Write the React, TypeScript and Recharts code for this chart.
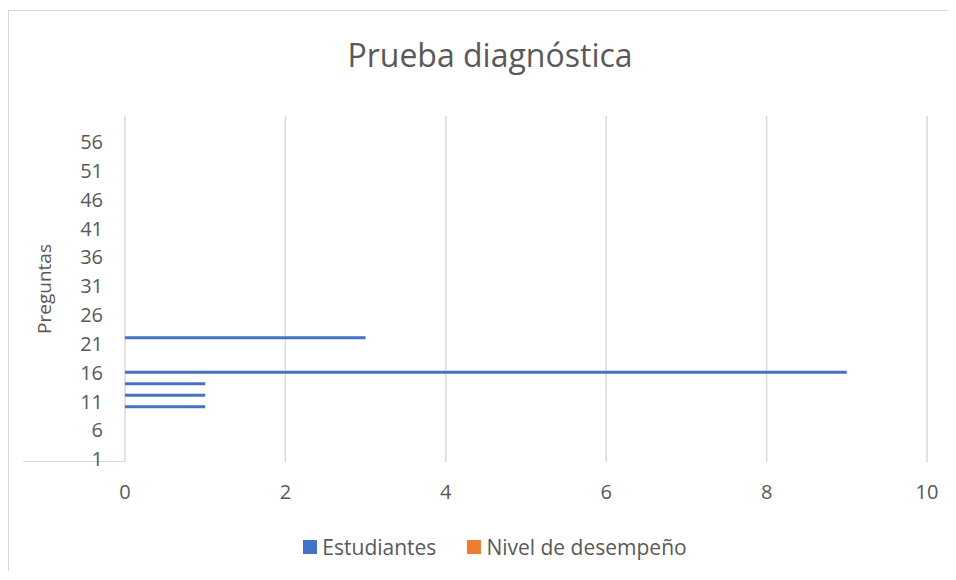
import React from 'react';
import { BarChart, Bar, XAxis, YAxis, CartesianGrid } from 'recharts';

// question numbers (category axis)
const preguntas = [
  1, 2, 3, 4, 5, 6, 7, 8, 9, 10,
  11, 12, 13, 14, 15, 16, 17, 18, 19, 20,
  21, 22, 23, 24, 25, 26, 27, 28, 29, 30,
  31, 32, 33, 34, 35, 36, 37, 38, 39, 40,
  41, 42, 43, 44, 45, 46, 47, 48, 49, 50,
  51, 52, 53, 54, 55, 56, 57, 58, 59, 60,
];

const estudiantes = [
  0, 0, 0, 0, 0, 0, 0, 0, 0, 1,
  0, 1, 0, 1, 0, 9, 0, 0, 0, 0,
  0, 3, 0, 0, 0, 0, 0, 0, 0, 0,
  0, 0, 0, 0, 0, 0, 0, 0, 0, 0,
  0, 0, 0, 0, 0, 0, 0, 0, 0, 0,
  0, 0, 0, 0, 0, 0, 0, 0, 0, 0,
];

const nivel = [
  0, 0, 0, 0, 0, 0, 0, 0, 0, 0,
  0, 0, 0, 0, 0, 0, 0, 0, 0, 0,
  0, 0, 0, 0, 0, 0, 0, 0, 0, 0,
  0, 0, 0, 0, 0, 0, 0, 0, 0, 0,
  0, 0, 0, 0, 0, 0, 0, 0, 0, 0,
  0, 0, 0, 0, 0, 0, 0, 0, 0, 0,
];

const valueTicks = [0, 2, 4, 6, 8, 10];

const series = [
  { key: 'estudiantes', name: 'Estudiantes', color: '#4472c4' },
  { key: 'nivel', name: 'Nivel de desempeño', color: '#ed7d31' },
];

const FONT = '"Open Sans", sans-serif';
const TEXT = '#595959';

const data = preguntas.map((p, i) => ({ q: p, estudiantes: estudiantes[i], nivel: nivel[i] }));

const App: React.FC = () => {
  return (
    <div
      style={{
        position: 'relative',
        marginTop: 2,
        width: 946,
        height: 560,
        borderLeft: '1.5px solid #d9d9d9',
        borderTop: '1.5px solid #d9d9d9',
        fontFamily: FONT,
        background: '#fff',
        overflow: 'hidden',
      }}
    >
      <div
        style={{
          position: 'absolute', left: 0, width: 962, top: 24,
          textAlign: 'center', fontSize: 32, color: TEXT, lineHeight: '40px',
        }}
      >
        Prueba diagnóstica
      </div>

      <div
        style={{
          position: 'absolute', left: 35, top: 278, width: 0, height: 0,
        }}
      >
        <div
          style={{
            position: 'absolute', transform: 'translate(-50%, -50%) rotate(-90deg)',
            fontSize: 19, color: TEXT, whiteSpace: 'nowrap',
          }}
        >
          Preguntas
        </div>
      </div>

      {/* odd little baseline under the category labels */}
      <div style={{ position: 'absolute', left: 14, top: 450, width: 102, borderTop: '1.5px solid #d9d9d9' }} />

      <BarChart
        width={946}
        height={560}
        data={data}
        layout="vertical"
        margin={{ top: 105, right: 28, left: 36, bottom: 69 }}
        barCategoryGap={0}
      >
        <CartesianGrid horizontal={false} stroke="#d9d9d9" strokeWidth={1.5} />
        <XAxis
          type="number"
          domain={[0, 10]}
          ticks={valueTicks}
          height={40}
          axisLine={false}
          tickLine={false}
          tickSize={0}
          tickMargin={23}
          tick={{ fontSize: 20, fill: TEXT, fontFamily: FONT }}
        />
        <YAxis
          type="category"
          dataKey="q"
          reversed
          width={80}
          interval={4}
          axisLine={false}
          tickLine={false}
          tickSize={0}
          tickMargin={22}
          tick={{ fontSize: 20, fill: TEXT, fontFamily: FONT }}
        />
        {series.map((s) => (
          <Bar key={s.key} dataKey={s.key} name={s.name} fill={s.color} stackId="a" barSize={3} isAnimationActive={false} />
        ))}
      </BarChart>

      <div
        style={{
          position: 'absolute', left: 5, width: 962, top: 522,
          display: 'flex', justifyContent: 'center', gap: 31, fontSize: 21, color: TEXT,
        }}
      >
        {series.map((s) => (
          <span key={s.key} style={{ display: 'flex', alignItems: 'center', gap: 5 }}>
            <span style={{ width: 14, height: 14, background: s.color, display: 'inline-block' }} />
            {s.name}
          </span>
        ))}
      </div>
    </div>
  );
};

export default App;
